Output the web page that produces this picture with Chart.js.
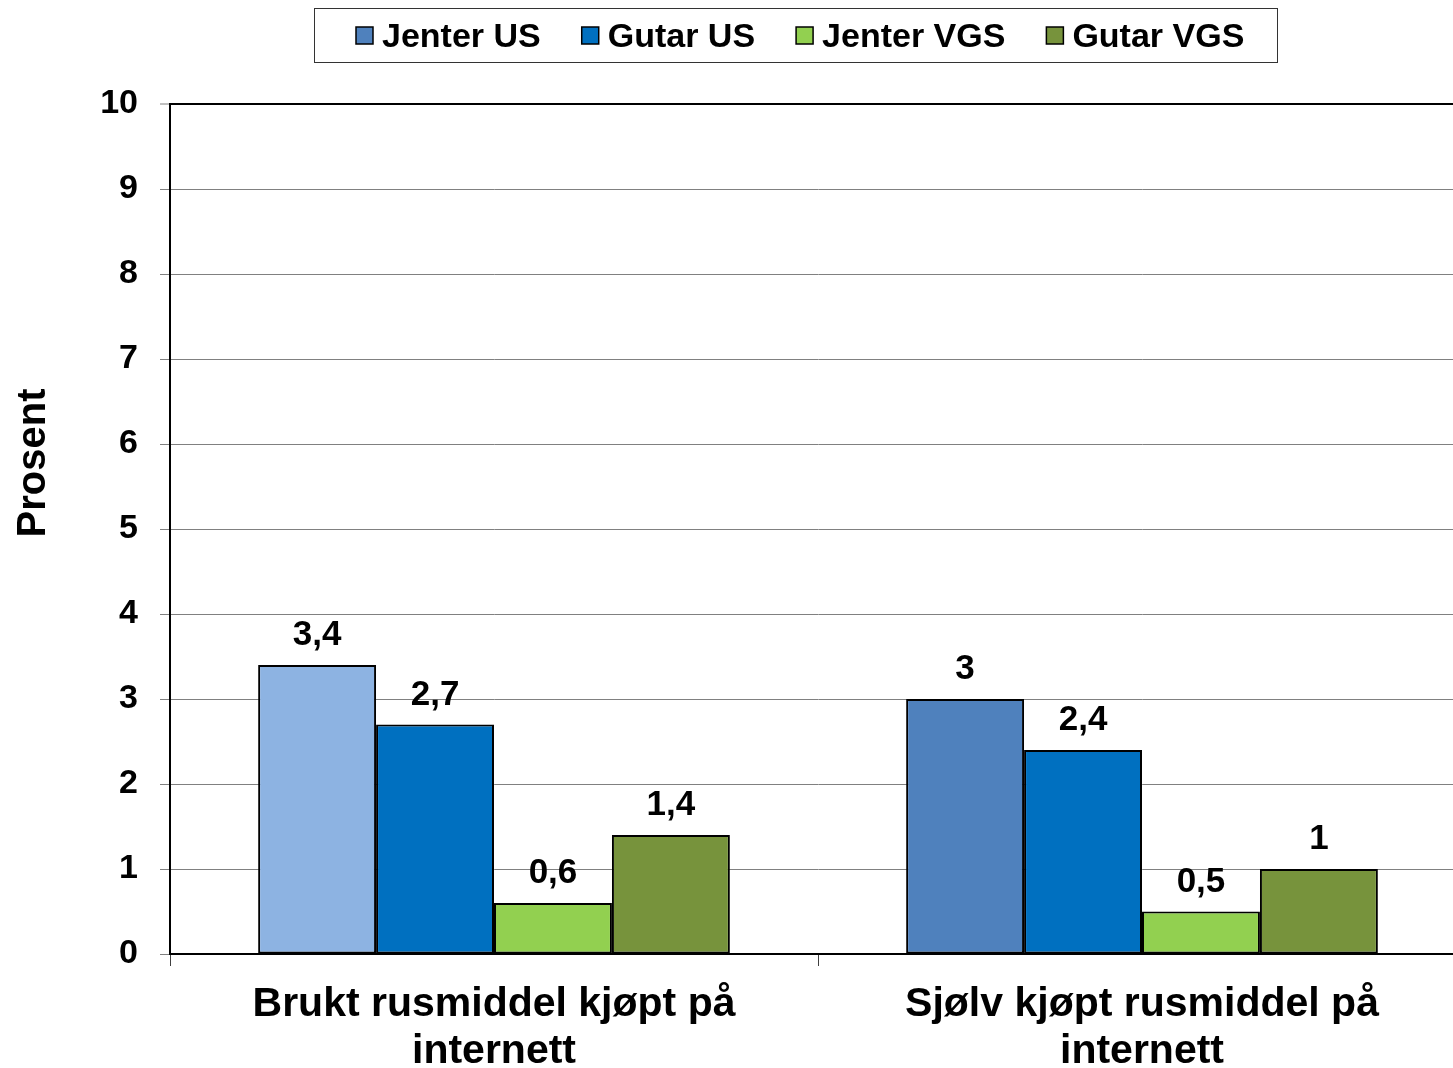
<!DOCTYPE html>
<html><head><meta charset="utf-8">
<script src="https://cdn.jsdelivr.net/npm/chart.js@4.4.1/dist/chart.umd.min.js"></script>
<style>
html,body{margin:0;padding:0;background:#fff;overflow:hidden;width:1453px;height:1068px}
#wrap{position:relative;width:1470px;height:1068px}
</style></head>
<body><div id="wrap"><canvas id="c"></canvas></div>
<script>
const categories = [["Brukt rusmiddel kjøpt på", "internett"], ["Sjølv kjøpt rusmiddel på", "internett"]];
const seriesNames = ["Jenter US", "Gutar US", "Jenter VGS", "Gutar VGS"];
const jenterUS = [3.4, 3];
const gutarUS = [2.7, 2.4];
const jenterVGS = [0.6, 0.5];
const gutarVGS = [1.4, 1];
const yMin = 0, yMax = 10, yStep = 1;
const yTitle = "Prosent";

const FONT = '"Liberation Sans", Arial, sans-serif';
const legendColors = ['#4F81BD', '#0070C0', '#92D050', '#77933C'];
const barColors = [['#8DB3E2', '#4F81BD'], '#0070C0', '#92D050', '#77933C'];
const seriesValues = [jenterUS, gutarUS, jenterVGS, gutarVGS];

const datasets = seriesNames.map((name, i) => ({
  label: name,
  data: seriesValues[i],
  backgroundColor: barColors[i],
  borderColor: '#000',
  borderWidth: 2,
  borderSkipped: false,
  categoryPercentage: 0.728,
  barPercentage: 1
}));

const fmt = v => String(v).replace('.', ',');

const labelPlugin = {
  id: 'valueLabels',
  afterDatasetsDraw(chart) {
    const ctx = chart.ctx;
    ctx.save();
    ctx.font = 'bold 35px ' + FONT;
    ctx.fillStyle = '#000';
    ctx.textAlign = 'center';
    ctx.textBaseline = 'alphabetic';
    chart.data.datasets.forEach((ds, di) => {
      const meta = chart.getDatasetMeta(di);
      meta.data.forEach((el, i) => {
        ctx.fillText(fmt(ds.data[i]), el.x, el.y - 20);
      });
    });
    ctx.restore();
  }
};

const titlePlugin = {
  id: 'yTitle',
  afterDraw(chart) {
    const ctx = chart.ctx;
    ctx.save();
    ctx.font = 'bold 40px ' + FONT;
    ctx.fillStyle = '#000';
    ctx.textAlign = 'center';
    ctx.textBaseline = 'alphabetic';
    ctx.translate(45, 463);
    ctx.rotate(-Math.PI / 2);
    ctx.fillText(yTitle, 0, 0);
    ctx.restore();
  }
};

const legendPlugin = {
  id: 'boxLegend',
  afterDraw(chart) {
    const ctx = chart.ctx;
    ctx.save();
    ctx.strokeStyle = '#333';
    ctx.lineWidth = 1;
    ctx.strokeRect(314.5, 8.5, 963, 54);
    ctx.font = 'bold 34px ' + FONT;
    ctx.textAlign = 'left';
    ctx.textBaseline = 'alphabetic';
    let x = 356;
    chart.data.datasets.forEach((ds, i) => {
      ctx.fillStyle = legendColors[i];
      ctx.fillRect(x, 27, 17, 17);
      ctx.strokeStyle = '#000';
      ctx.lineWidth = 1.5;
      ctx.strokeRect(x, 27, 17, 17);
      ctx.fillStyle = '#000';
      ctx.fillText(ds.label, x + 26, 47);
      x += 26 + ctx.measureText(ds.label).width + 41;
    });
    ctx.restore();
  }
};

new Chart(document.getElementById('c'), {
  type: 'bar',
  data: { labels: categories, datasets },
  options: {
    responsive: true,
    maintainAspectRatio: false,
    animation: false,
    events: [],
    layout: { padding: { top: 104, right: 4, left: 0, bottom: 0 } },
    plugins: { legend: { display: false }, tooltip: { enabled: false } },
    scales: {
      x: {
        afterFit: s => { s.height = 114; },
        grid: { offset: true, drawOnChartArea: false, drawTicks: true, tickLength: 12, color: '#404040', lineWidth: 1 },
        border: { display: true, color: '#000', width: 2 },
        ticks: { font: { family: FONT, size: 41, weight: 'bold', lineHeight: 1.15 }, color: '#000', padding: 15, maxRotation: 0, autoSkip: false }
      },
      y: {
        min: yMin, max: yMax,
        afterFit: s => { s.width = 170; },
        grid: {
          color: c => (c.tick && c.tick.value === yMax) ? '#000' : '#808080',
          lineWidth: c => (c.tick && c.tick.value === yMax) ? 2 : 1,
          tickColor: '#808080', tickWidth: 1, tickLength: 10, drawTicks: true
        },
        border: { display: true, color: '#000', width: 2 },
        ticks: { stepSize: yStep, font: { family: FONT, size: 34, weight: 'bold' }, color: '#000', padding: 22 }
      }
    }
  },
  plugins: [labelPlugin, titlePlugin, legendPlugin]
});
</script>
</body></html>
